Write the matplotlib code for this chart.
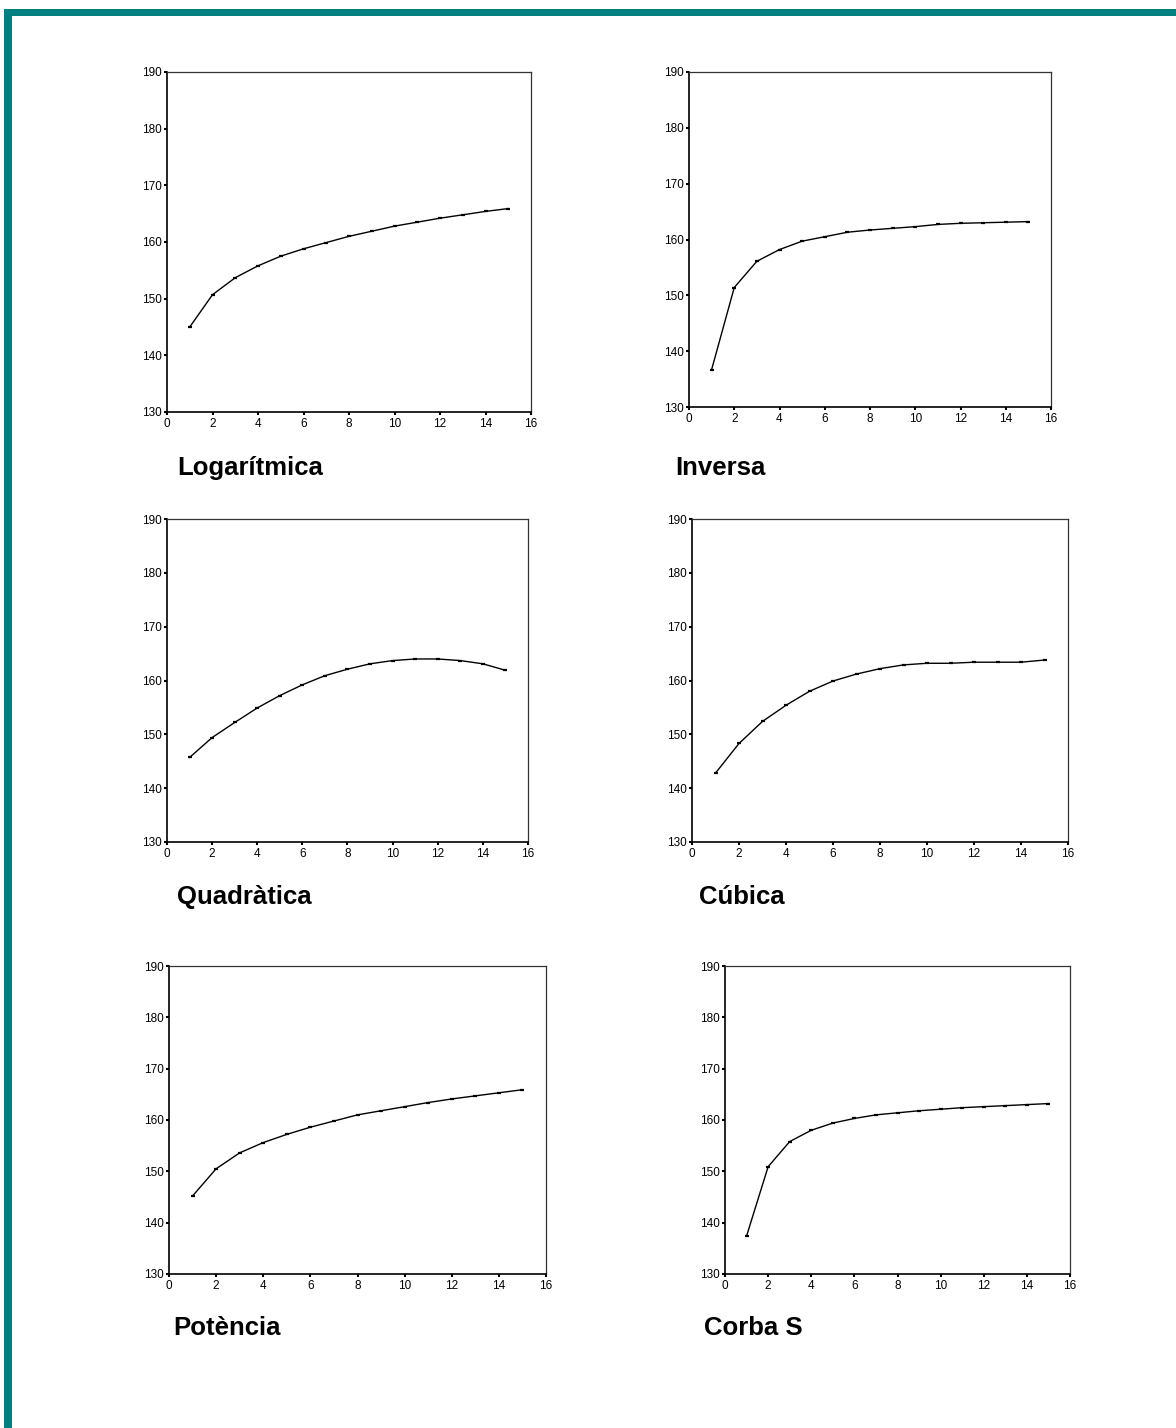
import matplotlib
matplotlib.use("Agg")
import matplotlib.pyplot as plt
from matplotlib.patches import Rectangle

plt.rcParams['font.family'] = ['Liberation Sans', 'DejaVu Sans']

x = list(range(1, 16))
titles = ["Logarítmica", "Inversa", "Quadràtica", "Cúbica", "Potència", "Corba S"]

logaritmica = [145.0, 150.7, 153.7, 155.8, 157.5, 158.8, 159.9, 161.0, 161.9, 162.8, 163.5, 164.2, 164.8, 165.4, 165.9]
inversa = [136.7, 151.4, 156.1, 158.2, 159.7, 160.5, 161.3, 161.7, 162.0, 162.3, 162.7, 162.9, 163.0, 163.1, 163.2]
quadratica = [145.7, 149.4, 152.2, 154.9, 157.2, 159.2, 160.9, 162.1, 163.1, 163.7, 164.0, 164.0, 163.7, 163.1, 161.9]
cubica = [142.8, 148.3, 152.4, 155.4, 158.0, 159.9, 161.2, 162.2, 162.9, 163.2, 163.2, 163.4, 163.4, 163.4, 163.8]
potencia = [145.2, 150.5, 153.6, 155.6, 157.2, 158.6, 159.8, 161.0, 161.8, 162.6, 163.4, 164.1, 164.7, 165.3, 165.9]
corba_s = [137.4, 150.9, 155.8, 158.0, 159.4, 160.3, 161.0, 161.4, 161.8, 162.1, 162.4, 162.6, 162.8, 163.0, 163.2]

series = [logaritmica, inversa, quadratica, cubica, potencia, corba_s]
xticks = list(range(0, 17, 2))
yticks = list(range(130, 191, 10))

W, H = 1176, 1428
fig = plt.figure(figsize=(W / 100, H / 100), dpi=100)
fig.patch.set_facecolor("white")

# teal frame (top and left bands)
teal = "#008080"
fig.patches.append(Rectangle((4 / W, 1 - 16 / H), 1 - 4 / W, 7 / H, transform=fig.transFigure,
                             facecolor=teal, edgecolor="none"))
fig.patches.append(Rectangle((4 / W, 0), 8 / W, 1 - 9 / H, transform=fig.transFigure,
                             facecolor=teal, edgecolor="none"))

# axes boxes in pixels: (left, right, top, bottom)
boxes = [
    (167, 531, 72, 412),
    (689, 1051, 72, 407),
    (167, 528, 519, 842),
    (692, 1068, 519, 842),
    (169, 546, 966, 1274),
    (725, 1070, 966, 1274),
]
title_pos = [
    (177, 468), (675, 468),
    (177, 897), (699, 897),
    (173, 1328), (704, 1328),
]

for (l, r, t, b), ys, title, (tx, ty) in zip(boxes, series, titles, title_pos):
    ax = fig.add_axes([l / W, 1 - b / H, (r - l) / W, (b - t) / H])
    ax.plot(x, ys, color="black", linewidth=1.0, marker="_", markersize=3.5, markeredgewidth=1.6)
    ax.set_xlim(0, 16)
    ax.set_ylim(130, 190)
    ax.set_xticks(xticks)
    ax.set_yticks(yticks)
    ax.tick_params(axis="both", direction="out", length=2.5, width=1.5, labelsize=8.5,
                   pad=1.5, colors="black")
    for side in ["left", "bottom"]:
        ax.spines[side].set_color("black")
        ax.spines[side].set_linewidth(1.2)
    for side in ["top", "right"]:
        ax.spines[side].set_color("#333333")
        ax.spines[side].set_linewidth(0.9)
    fig.text(tx / W, 1 - ty / H, title, fontsize=18.5, fontweight="bold",
             ha="left", va="center", color="black")

fig.savefig("out.png", dpi=100, facecolor="white")
